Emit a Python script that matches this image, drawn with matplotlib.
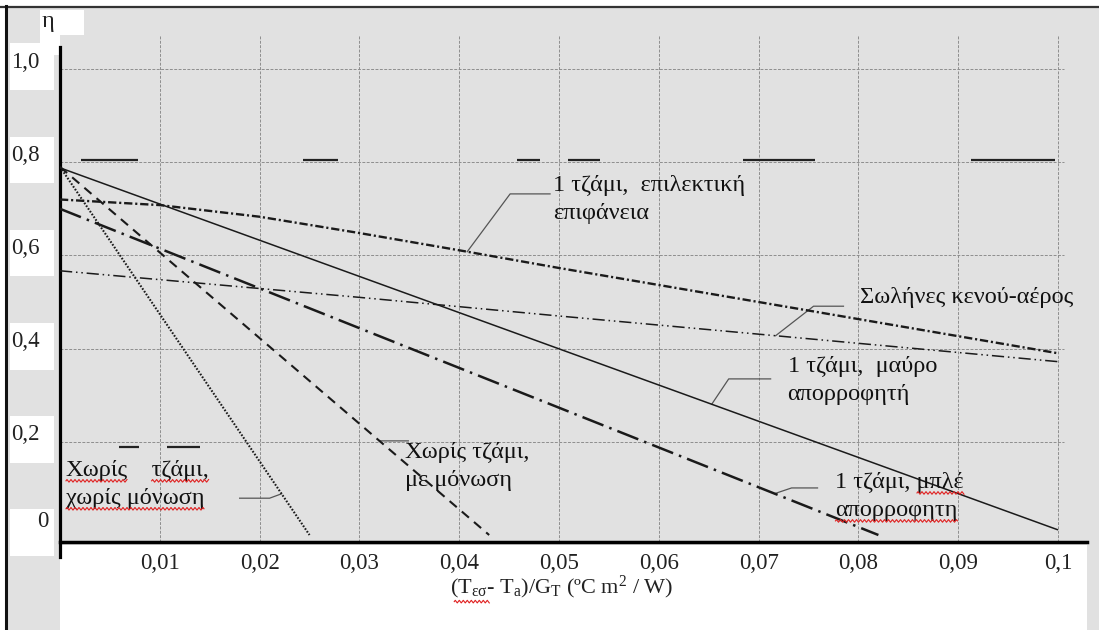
import numpy as np
import matplotlib
matplotlib.use("Agg")
import matplotlib.pyplot as plt
from matplotlib.patches import Rectangle
from matplotlib.lines import Line2D
from matplotlib.transforms import blended_transform_factory

plt.rcParams['font.family'] = ['Liberation Serif', 'DejaVu Serif']
plt.rcParams['mathtext.fontset'] = 'custom'
plt.rcParams['mathtext.rm'] = 'Liberation Serif'
plt.rcParams['mathtext.it'] = 'Liberation Serif:italic'

# efficiency curves, eta vs (T - Ta)/G
x_sel = [0, 0.01, 0.02, 0.03, 0.04, 0.05, 0.07, 0.1]
eta_sel = [0.72, 0.708, 0.683, 0.648, 0.611, 0.573, 0.50, 0.39]

x_vac = [0, 0.03, 0.05, 0.07, 0.1]
eta_vac = [0.567, 0.51, 0.47, 0.431, 0.372]

x_black = [0, 0.1]
eta_black = [0.788, 0.011]

x_blue = [0, 0.082]
eta_blue = [0.70, 0.0]

x_ins = [0, 0.043]
eta_ins = [0.79, 0.0]

x_bare = [0, 0.025]
eta_bare = [0.79, 0.0]

x_ticks = [0.01, 0.02, 0.03, 0.04, 0.05, 0.06, 0.07, 0.08, 0.09, 0.1]
x_ticklabels = ["0,01", "0,02", "0,03", "0,04", "0,05", "0,06", "0,07", "0,08", "0,09", "0,1"]
y_ticks = [1.0, 0.8, 0.6, 0.4, 0.2, 0.0]
y_ticklabels = ["1,0", "0,8", "0,6", "0,4", "0,2", "0"]

# short black strokes left over on the grid lines of the scanned original
scan_eta = [0.805, 0.805, 0.805, 0.805, 0.805, 0.805, 0.188, 0.188]
scan_x0 = [0.0021, 0.0243, 0.0458, 0.0509, 0.0684, 0.0913, 0.0059, 0.0107]
scan_x1 = [0.0078, 0.0279, 0.0481, 0.0541, 0.0756, 0.0997, 0.0079, 0.0140]

W, H = 1099, 630
GRAY = '#e1e1e1'
FS_TICK = 16.5
FS_TXT = 17.5
LINE_GAP = 0.06  # eta between two text lines

fig = plt.figure(figsize=(W / 100, H / 100), dpi=100, facecolor='white')

def fx(px):
    return px / W

def fy(py):
    return 1 - py / H

# scanned page look: gray panel, white strip under the x axis, border lines
fig.patches.append(Rectangle((fx(7), 0), 1 - fx(7), fy(8), transform=fig.transFigure,
                             facecolor=GRAY, edgecolor='none', zorder=-3))
fig.patches.append(Rectangle((fx(60), 0), fx(1087) - fx(60), fy(545), transform=fig.transFigure,
                             facecolor='white', edgecolor='none', zorder=-2))
fig.add_artist(Line2D([0, 1], [fy(7), fy(7)], transform=fig.transFigure, color='#333333', lw=1.6))
fig.add_artist(Line2D([fx(6), fx(6)], [0, fy(6)], transform=fig.transFigure, color='#111111', lw=2.2))

ax = fig.add_axes([fx(60), fy(542), fx(1087) - fx(60), fy(35) - fy(542)])
ax.set_facecolor(GRAY)
ax.set_xlim(0, 0.1029)
ax.set_ylim(-0.015, 1.073)

for s in ['top', 'right']:
    ax.spines[s].set_visible(False)
ax.spines['left'].set_linewidth(2.3)
ax.spines['left'].set_bounds(-0.047, 1.047)
ax.spines['bottom'].set_linewidth(2.5)

# grid
grid_kw = dict(color='#8e8e8e', lw=0.7, linestyle=(0, (3, 1.5)), zorder=1)
ax.vlines(x_ticks, -0.015, 1.073, **grid_kw)
ax.hlines(y_ticks[:-1], 0, 0.1006, **grid_kw)
ax.hlines(scan_eta, scan_x0, scan_x1, color='#222222', lw=1.6, zorder=1.5)

# curves
line_kw = dict(color='#1a1a1a', solid_capstyle='butt', dash_capstyle='butt', zorder=3)
ax.plot(x_black, eta_black, lw=1.1, linestyle='-', **line_kw)
ax.plot(x_sel, eta_sel, lw=1.7, linestyle=(0, (3.5, 1.2, 0.9, 1.2)), **line_kw)
ax.plot(x_vac, eta_vac, lw=1.1, linestyle=(0, (8, 2.5, 1, 2.5, 1, 2.5)), **line_kw)
ax.plot(x_blue, eta_blue, lw=1.8, linestyle=(0, (9, 2.5, 1, 2.5)), **line_kw)
ax.plot(x_ins, eta_ins, lw=1.5, linestyle=(0, (4.5, 3.2)), **line_kw)
ax.plot(x_bare, eta_bare, lw=1.5, linestyle=(0, (0.8, 0.8)), **line_kw)

# labels with leader lines:
# (lines, text x, first baseline eta, leader start, elbow x, curve x, curve, red-underlined spans)
labels = [
    (["1 τζάμι,  επιλεκτική", "επιφάνεια"], 0.0494, 0.738, (0.0491, 0.732), 0.0451, 0.0408,
     (x_sel, eta_sel), []),
    (["Σωλήνες κενού-αέρος"], 0.0802, 0.498, (0.0785, 0.491), 0.0755, 0.0717,
     (x_vac, eta_vac), []),
    (["1 τζάμι,  μαύρο", "απορροφητή"], 0.0729, 0.350, (0.0712, 0.335), 0.0670, 0.0653,
     (x_black, eta_black), []),
    (["Χωρίς τζάμι,", "με μόνωση"], 0.0346, 0.165, (0.0349, 0.202), 0.0325, 0.0320,
     (x_ins, eta_ins), []),
    (["1 τζάμι, μπλέ", "απορροφητη"], 0.0777, 0.101, (0.0759, 0.101), 0.0733, 0.0716,
     (x_blue, eta_blue), [(0, 9, 13), (1, 0, 10)]),
    (["Χωρίς    τζάμι,", "χωρίς μόνωση"], 0.0006, 0.127, (0.0180, 0.079), 0.0210, 0.0222,
     (x_bare, eta_bare), [(0, 0, 5), (0, 9, 15), (1, 0, 12)]),
]
squiggles = []
for lines, tx, ty, (sx, sy), ex, cx, (xs, ys), spans in labels:
    cy = np.interp(cx, xs, ys)
    ax.plot([sx, ex, cx], [sy, sy, cy], color='#555555', lw=0.9, zorder=2)
    arts = []
    for i, ln in enumerate(lines):
        t = ax.text(tx, ty - i * LINE_GAP, ln, fontsize=FS_TXT, ha='left', va='baseline',
                    color='#111111', zorder=4)
        arts.append(t)
    for li, a, b in spans:
        squiggles.append((arts[li], a, b))

# x ticks
ax.set_xticks(x_ticks)
ax.set_xticklabels(x_ticklabels, fontsize=FS_TICK, color='#222222')
ax.tick_params(axis='x', length=0, pad=8)
ax.set_yticks([])

# y tick labels on white boxes
tr = blended_transform_factory(fig.transFigure, ax.transData)
for v, lab in zip(y_ticks, y_ticklabels):
    ax.add_patch(Rectangle((fx(10), v - 0.045), fx(54) - fx(10), 0.1, transform=tr,
                           facecolor='white', edgecolor='none', clip_on=False, zorder=0))
    if lab == "0":
        ax.text(fx(49), v + 0.03, lab, transform=tr, fontsize=FS_TICK, ha='right', va='center',
                color='#222222', clip_on=False)
    else:
        ax.text(fx(11), v + 0.015, lab, transform=tr, fontsize=FS_TICK, ha='left', va='center',
                color='#222222', clip_on=False)

# eta label
fig.patches.append(Rectangle((fx(40), fy(55)), fx(84) - fx(40), fy(10) - fy(55),
                             transform=fig.transFigure, facecolor='white', edgecolor='none', zorder=-1))
fig.text(fx(42), fy(22), "η", fontsize=FS_TXT, ha='left', va='center', color='#222222')

# x axis label
xlab = fig.text(fx(562), fy(587),
                r"(T$_{\mathrm{εσ}}$- T$_{\mathrm{a}}$)/G$_{\mathrm{T}}$ (ºC m$^{2}$ / W)",
                fontsize=16, ha='center', va='center', color='#222222')

# red spell-check underlines, as in the scanned original
fig.canvas.draw()
rend = fig.canvas.get_renderer()


def wavy(x0, x1, y):
    xx = np.arange(x0, x1, 1.0)
    yy = y + 1.3 * np.sin((xx - x0) * np.pi / 2.0)
    fig.add_artist(Line2D(xx / W, yy / H, transform=fig.transFigure, color='#e02020', lw=0.8))


for t, a, b in squiggles:
    s = t.get_text()
    prop = t.get_fontproperties()
    w0 = rend.get_text_width_height_descent(s[:a].replace(' ', '\u00a0'), prop, ismath=False)[0] if a else 0
    w1 = rend.get_text_width_height_descent(s[:b], prop, ismath=False)[0]
    px0, pyb = t.get_transform().transform(t.get_position())
    wavy(px0 + w0, px0 + w1, pyb - 5)

bb = xlab.get_window_extent(rend)
wavy(bb.x0 + 4, bb.x0 + 40, bb.y0 - 1)

fig.savefig("out.png", dpi=100, facecolor=fig.get_facecolor())
